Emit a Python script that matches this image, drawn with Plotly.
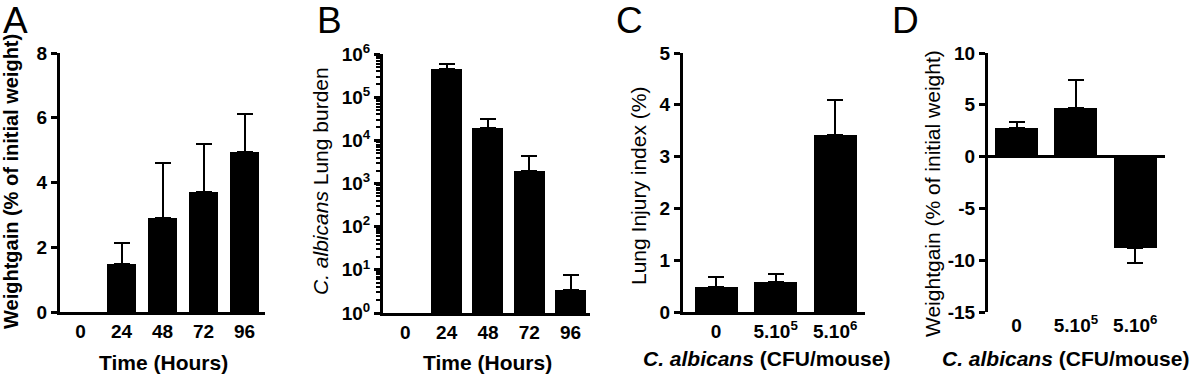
import plotly.graph_objects as go

# ---------------- data ----------------
time_labels = ["0", "24", "48", "72", "96"]
weight_a = [None, 1.48, 2.9, 3.7, 4.94]
weight_a_err = [0.0, 0.65, 1.7, 1.5, 1.17]

burden_b = [None, 4.5e5, 1.9e4, 2.0e3, 3.5]
burden_b_up = [0, 1.3e5, 1.2e4, 2.3e3, 4.1]

dose_labels = ["0", "5.10<sup>5</sup>", "5.10<sup>6</sup>"]
injury_c = [0.48, 0.58, 3.42]
injury_c_err = [0.2, 0.15, 0.67]

weight_d = [2.8, 4.7, -8.8]
weight_d_err = [0.5, 2.7, 1.5]

log_tickvals = [1, 10, 100, 1000, 10000, 100000, 1000000]
log_ticktext = ["10<sup>%d</sup>" % i for i in range(7)]
d_tickvals = [-15, -10, -5, 0, 5, 10]
d_ticktext = ["-15", "-10", "-5", "0", "5", "10"]

FONT = "Liberation Sans, Arial, Helvetica, sans-serif"
W, H = 1200, 375


def px(x):
    return x / W


def py(y):
    return 1 - y / H


fig = go.Figure()

err_style = dict(color="black", thickness=2, width=8)

# Panel A
fig.add_trace(go.Bar(
    x=list(range(5)), y=weight_a, width=0.73, marker=dict(color="black", line=dict(width=0)),
    error_y=dict(type="data", symmetric=False, array=weight_a_err,
                 arrayminus=[0] * 5, visible=True, **err_style),
    xaxis="x", yaxis="y", showlegend=False))

# Panel B
fig.add_trace(go.Bar(
    x=list(range(5)), y=burden_b, width=0.75, marker=dict(color="black", line=dict(width=0)),
    error_y=dict(type="data", symmetric=False, array=burden_b_up,
                 arrayminus=[0] * 5, visible=True, **err_style),
    xaxis="x2", yaxis="y2", showlegend=False))

# Panel C
fig.add_trace(go.Bar(
    x=list(range(3)), y=injury_c, width=0.72, marker=dict(color="black", line=dict(width=0)),
    error_y=dict(type="data", symmetric=False, array=injury_c_err,
                 arrayminus=[0] * 3, visible=True, **err_style),
    xaxis="x3", yaxis="y3", showlegend=False))

# Panel D (negative bar error goes downward)
d_up = [e if v >= 0 else 0 for v, e in zip(weight_d, weight_d_err)]
d_down = [e if v < 0 else 0 for v, e in zip(weight_d, weight_d_err)]
fig.add_trace(go.Bar(
    x=list(range(3)), y=weight_d, width=0.725, marker=dict(color="black", line=dict(width=0)),
    error_y=dict(type="data", symmetric=False, array=d_up,
                 arrayminus=d_down, visible=True, **err_style),
    xaxis="x4", yaxis="y4", showlegend=False))

tickfont = dict(family=FONT, size=19, color="black", weight="bold")

xcommon = dict(showgrid=False, zeroline=False, ticks="", tickfont=tickfont,
               linecolor="black", linewidth=3, fixedrange=True, automargin=False)
ycommon = dict(showgrid=False, zeroline=False, ticks="outside", ticklen=6, tickwidth=3,
               tickcolor="black", tickfont=tickfont, showline=True,
               linecolor="black", linewidth=3, fixedrange=True, automargin=False)

fig.update_layout(
    template="none",
    width=W, height=H, margin=dict(l=0, r=0, t=0, b=0, pad=0, autoexpand=False),
    paper_bgcolor="white", plot_bgcolor="white",
    font=dict(family=FONT, color="black"),
    bargap=0,
    xaxis=dict(domain=[px(60), px(265)], range=[-0.5, 4.5], tickvals=list(range(5)),
               ticktext=time_labels, showline=True, anchor="y", **xcommon),
    yaxis=dict(domain=[py(312), py(53)], range=[0, 8], tickvals=[0, 2, 4, 6, 8],
               anchor="x", **ycommon),
    xaxis2=dict(domain=[px(383), px(590)], range=[-0.54, 4.47], tickvals=list(range(5)),
                ticktext=time_labels, showline=True, anchor="y2", **xcommon),
    yaxis2=dict(domain=[py(313), py(54)], type="log", range=[0, 6], tickvals=log_tickvals,
                ticktext=log_ticktext, anchor="x2",
                minor=dict(ticks="outside", ticklen=4, tickwidth=2, tickcolor="black",
                           dtick="D1", showgrid=False),
                **ycommon),
    xaxis3=dict(domain=[px(683), px(865)], range=[-0.555, 2.5], tickvals=list(range(3)),
                ticktext=dose_labels, showline=True, anchor="y3", **xcommon),
    yaxis3=dict(domain=[py(312), py(53)], range=[0, 5], tickvals=[0, 1, 2, 3, 4, 5],
                anchor="x3", **ycommon),
    xaxis4=dict(domain=[px(988), px(1165)], range=[-0.48, 2.5], tickvals=list(range(3)),
                ticktext=dose_labels, showline=False, anchor="y4", **xcommon),
    yaxis4=dict(domain=[py(312), py(53)], range=[-15, 10], tickvals=d_tickvals,
                ticktext=d_ticktext,
                anchor="x4", **{**ycommon, "zeroline": True, "zerolinecolor": "black",
                                "zerolinewidth": 3}),
)

ann = []
# panel letters
for letter, xc in [("A", 15), ("B", 329), ("C", 629), ("D", 905)]:
    ann.append(dict(text=letter, x=px(xc), y=py(20), xref="paper", yref="paper",
                    xanchor="center", yanchor="middle", showarrow=False,
                    font=dict(family=FONT, size=37, color="black")))

# y titles
ytitles = [
    ("<b>Weightgain (% of initial weight)</b>", 11, 182, 20),
    ("<i>C. albicans</i> Lung burden", 320, 181, 21),
    ("Lung Injury index (%)", 638, 186, 21),
    ("Weightgain (% of initial weight)", 932, 193, 21),
]
for t, xc, yc, fs in ytitles:
    ann.append(dict(text=t, x=px(xc), y=py(yc), xref="paper", yref="paper",
                    xanchor="center", yanchor="middle", textangle=-90, showarrow=False,
                    font=dict(family=FONT, size=fs, color="black")))

# x titles
xtitles = [
    ("<b>Time (Hours)</b>", 163, 362),
    ("<b>Time (Hours)</b>", 487, 362),
    ("<b><i>C. albicans</i> (CFU/mouse)</b>", 766, 358),
    ("<b><i>C. albicans</i> (CFU/mouse)</b>", 1065, 358),
]
for t, xc, yc in xtitles:
    ann.append(dict(text=t, x=px(xc), y=py(yc), xref="paper", yref="paper",
                    xanchor="center", yanchor="middle", showarrow=False,
                    font=dict(family=FONT, size=21, color="black")))

fig.update_layout(annotations=ann)
fig.write_html("out.html", config={"displayModeBar": False, "staticPlot": True},
               post_script="document.body.style.margin='0px';"
                           "document.body.style.overflow='hidden';")
